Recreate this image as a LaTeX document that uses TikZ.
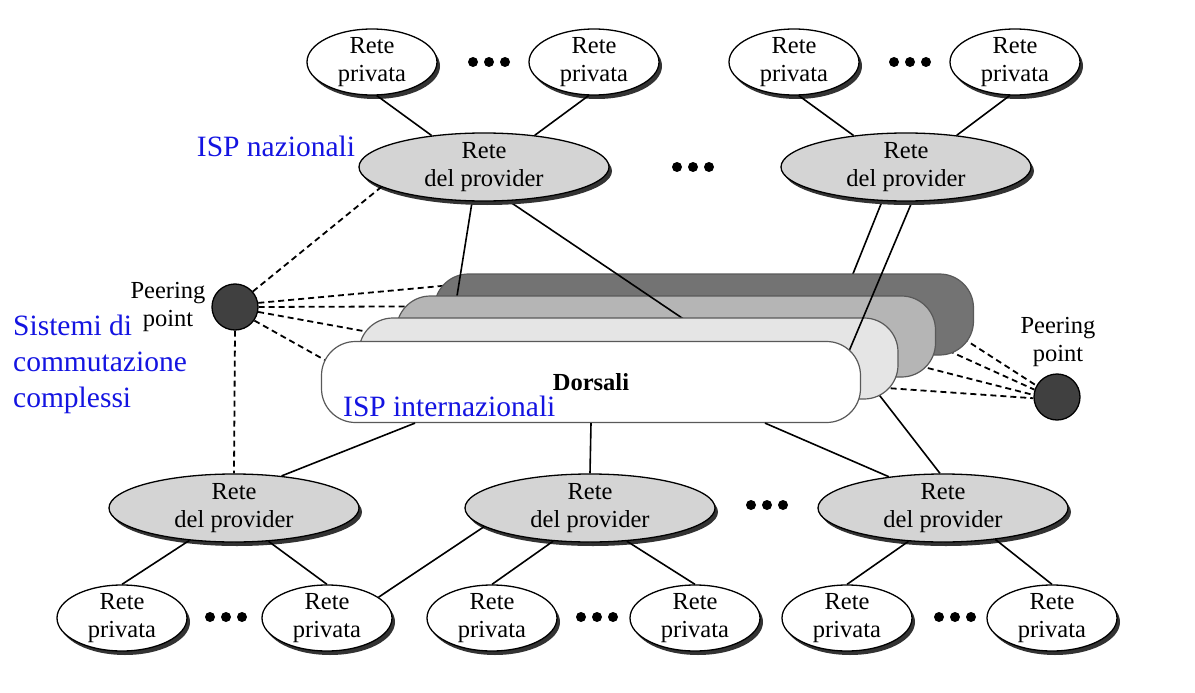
\documentclass[tikz,border=0pt]{standalone}
\usepackage{fontspec}
\setmainfont{Liberation Serif}
\usetikzlibrary{shapes.geometric,shadows,calc}
\pgfdeclarelayer{lA}\pgfdeclarelayer{bD}\pgfdeclarelayer{lB}\pgfdeclarelayer{bM}
\pgfdeclarelayer{lC}\pgfdeclarelayer{bL}\pgfdeclarelayer{lD}\pgfdeclarelayer{bW}
\pgfsetlayers{lA,bD,lB,bM,lC,bL,lD,bW,main}
\definecolor{ispblue}{RGB}{20,20,225}
\begin{document}
\begin{tikzpicture}[x=1pt,y=-1pt,
  nfont/.style={font=\fontsize{24.5}{28}\selectfont},
  priv/.style={ellipse,draw,line width=1.3pt,fill=white,minimum width=130pt,minimum height=66pt,inner sep=-8pt,align=center,nfont,
    drop shadow={shadow xshift=3pt,shadow yshift=-4pt,fill=black!80,opacity=1}},
  prov/.style={priv,fill=black!17,minimum width=250pt,minimum height=68pt},
  bbox/.style={rectangle,rounded corners=34pt,minimum width=539pt,minimum height=81pt,inner sep=0pt,draw=black!65,line width=1.2pt},
  peer/.style={circle,draw,line width=1.3pt,fill=black!75,minimum size=46pt,inner sep=0pt},
  plabel/.style={nfont,align=center,inner sep=0pt},
  isp/.style={font=\fontsize{29.5}{36}\selectfont,text=ispblue,inner sep=0pt},
  link/.style={line width=1.6pt},
  peerlink/.style={line width=1.8pt,dash pattern=on 6pt off 4pt}]
\useasboundingbox (0,0) rectangle (1195,693);

% top private networks
\node[priv] (TL1) at (372,62) {Rete\\privata};
\node[priv] (TL2) at (594,62) {Rete\\privata};
\node[priv] (TR1) at (794,62) {Rete\\privata};
\node[priv] (TR2) at (1015,62) {Rete\\privata};
% top providers
\node[prov] (PL) at (484,167) {Rete\\del provider};
\node[prov] (PR) at (906,167) {Rete\\del provider};
% bottom providers
\node[prov] (BL) at (234,508) {Rete\\del provider};
\node[prov] (BM) at (590,508) {Rete\\del provider};
\node[prov] (BR) at (943,508) {Rete\\del provider};
% bottom private networks
\node[priv] (BL1) at (122,618) {Rete\\privata};
\node[priv] (BL2) at (327,618) {Rete\\privata};
\node[priv] (BM1) at (492,618) {Rete\\privata};
\node[priv] (BM2) at (695,618) {Rete\\privata};
\node[priv] (BR1) at (847,618) {Rete\\privata};
\node[priv] (BR2) at (1052,618) {Rete\\privata};

% backbone stack
\begin{pgfonlayer}{bD}\node[bbox,fill=black!55] (D) at (704,314.5) {};\end{pgfonlayer}
\begin{pgfonlayer}{bM}\node[bbox,fill=black!29] (M) at (666,336.5) {};\end{pgfonlayer}
\begin{pgfonlayer}{bL}\node[bbox,fill=black!10] (L) at (628.5,358.5) {};\end{pgfonlayer}
\begin{pgfonlayer}{bW}\node[bbox,fill=white,font=\fontsize{24.5}{28}\selectfont\bfseries] (W) at (591,382) {Dorsali};\end{pgfonlayer}

% peering points
\node[peer] (PPL) at (235,307) {};
\node[plabel] (PPLt) at (168,307) {Peering\\point};
\node[peer] (PPR) at (1057,397) {};
\node[plabel] (PPRt) at (1058,342) {Peering\\point};

% blue labels
\node[isp] (ispn) at (276,146) {ISP nazionali};
\node[isp,anchor=west,align=left] (sis) at (13,364) {Sistemi di\\commutazione\\complessi};
\node[isp,anchor=west] (ispi) at (343,406) {ISP internazionali};

% dots
\foreach \cx/\cy in {489/62,910/62,693/167,767/505,226/617,597/617,955/617}{
  \foreach \dd in {-16,0,16}{\fill (\cx+\dd,\cy) circle[radius=5pt];}}

% layered connectors
\begin{pgfonlayer}{lA}
\draw[link] (PR.-125) -- ($(D.north east)+(-127,15)$);
\draw[peerlink] (PPL.10) -- ($(D.north west)+(14,12)$);
\draw[peerlink] ($(D.south east)+(-20,-23)$) -- (PPR.151);
\draw[peerlink] ($(D.south east)+(-26,-5)$) -- (PPR.162);
\end{pgfonlayer}
\begin{pgfonlayer}{lB}
\draw[link] (PL.-109) -- ($(M.north west)+(58,20)$);
\draw[peerlink] (PPL.0) -- ($(M.north west)+(20,11)$);
\draw[peerlink] ($(M.south east)+(-18,-12)$) -- (PPR.175);
\end{pgfonlayer}
\begin{pgfonlayer}{lC}
\draw[link] (PL.-54) -- ($(L.north west)+(342,13)$);
\draw[peerlink] (PPL.-12) -- ($(L.north west)+(18,16)$);
\draw[peerlink] ($(L.south east)+(-18,-12)$) -- (PPR.-177);
\draw[link] ($(L.south east)+(-22,-8)$) -- (BR.95);
\end{pgfonlayer}
\begin{pgfonlayer}{lD}
\draw[link] (PR.-80) -- ($(W.north east)+(-20,29)$);
\draw[peerlink] (PPL.-35) -- ($(W.north west)+(18,27)$);
\end{pgfonlayer}

% main connectors
\draw[link] (TL1.-82) -- (PL.149);
\draw[link] (TL2.-99) -- (PL.32);
\draw[link] (TR1.-82) -- (PR.149);
\draw[link] (TR2.-99) -- (PR.32);
\draw[peerlink] (PPL.41) -- (PL.-169);
\draw[peerlink] (PPL.south) -- (BL.north);
\draw[link] ($(W.south)+(-176,0)$) -- (BL.34);
\draw[link] (W.south) -- (BM.north);
\draw[link] ($(W.south)+(174,0)$) -- (BR.150);
\draw[link] (BL.-144) -- (BL1.north);
\draw[link] (BL.-44) -- (BL2.north);
\draw[link] (BM.-170) -- (BL2.22);
\draw[link] (BM.-138) -- (BM1.north);
\draw[link] (BM.-42) -- (BM2.north);
\draw[link] (BR.-136) -- (BR1.north);
\draw[link] (BR.-31) -- (BR2.north);
\end{tikzpicture}
\end{document}
